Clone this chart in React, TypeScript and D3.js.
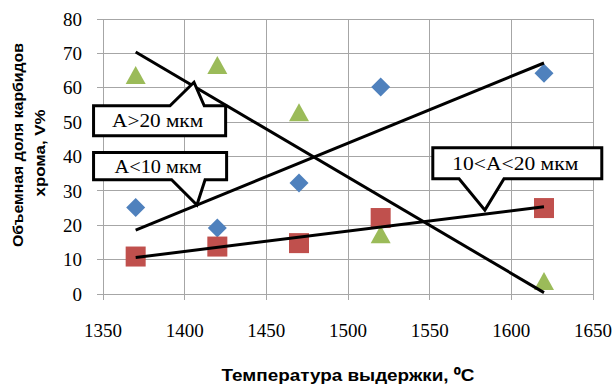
import * as d3 from "d3";

// температура выдержки, °C
const temps = [1370, 1420, 1470, 1520, 1620];
// объемная доля карбидов, V%
const fineShare = [25.2, 19.2, 32.3, 60.2, 64.2]; // A<10 мкм
const midShare = [10.9, 13.8, 14.8, 22.1, 25.0]; // 10<A<20 мкм
const coarseShare = [63.7, 66.6, 52.9, 17.4, 3.8]; // A>20 мкм

// линии тренда (концы, как на рисунке)
const trendTemps = [1370, 1620];
const fineTrend = [18.6, 67.2];
const midTrend = [10.6, 25.4];
const coarseTrend = [70.4, 0.4];

const xTicks = [1350, 1400, 1450, 1500, 1550, 1600, 1650];
const yTicks = [0, 10, 20, 30, 40, 50, 60, 70, 80];

// выноски: текст, острие (в данных), рамка (в данных), основание клина (по x), сторона
const callouts = [
  { text: "A>20 мкм", tip: [1405.7, 61.6], box: [1343.3, 1426, 55.2, 45.6], base: [1391, 1412], side: "top" },
  { text: "A<10 мкм", tip: [1407.5, 25.9], box: [1343.3, 1426.6, 41.6, 32.8], base: [1392, 1412.5], side: "bottom" },
  { text: "10<A<20 мкм", tip: [1583.8, 24.4], box: [1551, 1656.3, 43, 33.1], base: [1568, 1595.5], side: "bottom" },
];

const W = 615;
const H = 385;

const x = d3.scaleLinear().domain([1350, 1650]).range([103, 593]);
const y = d3.scaleLinear().domain([0, 80]).range([294, 19]);

const gridColor = "#a6a6a6";
const serif = "'Liberation Serif', 'Times New Roman', serif";
const sans = "'Liberation Sans', Arial, sans-serif";
// ширина надписей в выносках, px
const labelWidth: Record<string, number> = { "A>20 мкм": 91, "A<10 мкм": 87, "10<A<20 мкм": 126 };

function diamond(cx: number, cy: number, r: number) {
  return `M${cx},${cy - r}L${cx + r},${cy}L${cx},${cy + r}L${cx - r},${cy}Z`;
}
function triangle(cx: number, cy: number, w: number, h: number) {
  return `M${cx},${cy - h / 2}L${cx + w / 2},${cy + h / 2}L${cx - w / 2},${cy + h / 2}Z`;
}

function calloutPath(c: (typeof callouts)[number]) {
  const x0 = x(c.box[0]) + 1.5, x1 = x(c.box[1]) - 1.5;
  const y0 = y(c.box[2]) + 1.5, y1 = y(c.box[3]) - 1.5;
  const b0 = x(c.base[0]), b1 = x(c.base[1]);
  const tx = x(c.tip[0]), ty = y(c.tip[1]);
  if (c.side === "top") {
    return `M${x0},${y0}L${b0},${y0}L${tx},${ty}L${b1},${y0}L${x1},${y0}L${x1},${y1}L${x0},${y1}Z`;
  }
  return `M${x0},${y0}L${x1},${y0}L${x1},${y1}L${b1},${y1}L${tx},${ty}L${b0},${y1}L${x0},${y1}Z`;
}

const trendLine = d3
  .line<number>()
  .x((_, i) => x(trendTemps[i]))
  .y((d) => y(d));

export default function App() {
  const [xMin, xMax] = x.range();
  const [yBottom, yTop] = y.range();

  return (
    <svg
      width={W}
      height={H}
      style={{ position: "absolute", left: 0, top: 0, background: "#fff" }}
    >
      {/* сетка */}
      <g stroke={gridColor} strokeWidth={1} shapeRendering="crispEdges">
        {yTicks.map((t) => (
          <line key={"gy" + t} x1={xMin - 6} x2={xMax} y1={y(t)} y2={y(t)} />
        ))}
        {xTicks.map((t) => (
          <line key={"gx" + t} x1={x(t)} x2={x(t)} y1={yTop} y2={yBottom + 6} />
        ))}
      </g>

      {/* подписи осей */}
      <g fontFamily={serif} fontSize={19} fill="#000">
        {yTicks.map((t) => (
          <text key={"ly" + t} x={82} y={y(t)} dy="0.35em" textAnchor="end">
            {t}
          </text>
        ))}
        {xTicks.map((t) => (
          <text key={"lx" + t} x={x(t)} y={337} textAnchor="middle">
            {t}
          </text>
        ))}
      </g>

      {/* точки */}
      {temps.map((t, i) => (
        <path key={"b" + t} d={diamond(x(t), y(fineShare[i]), 9.5)} fill="#4f81bd" />
      ))}
      {temps.map((t, i) => (
        <rect
          key={"r" + t}
          x={x(t) - 10}
          y={y(midShare[i]) - 10}
          width={20}
          height={20}
          fill="#c0504d"
        />
      ))}
      {temps.map((t, i) => (
        <path key={"g" + t} d={triangle(x(t), y(coarseShare[i]), 20, 18)} fill="#9bbb59" />
      ))}

      {/* тренды */}
      <g fill="none" stroke="#000" strokeWidth={3}>
        <path d={trendLine(fineTrend) ?? ""} />
        <path d={trendLine(midTrend) ?? ""} />
        <path d={trendLine(coarseTrend) ?? ""} />
      </g>

      {/* выноски */}
      {callouts.map((c) => (
        <g key={c.text}>
          <path d={calloutPath(c)} fill="#fff" stroke="#000" strokeWidth={3} strokeLinejoin="miter" />
          <text
            x={(x(c.box[0]) + x(c.box[1])) / 2 - 2}
            y={(y(c.box[2]) + y(c.box[3])) / 2}
            dy="0.35em"
            textAnchor="middle"
            fontFamily={serif}
            fontSize={19}
            textLength={labelWidth[c.text]}
            lengthAdjust="spacingAndGlyphs"
          >
            {c.text}
          </text>
        </g>
      ))}

      {/* заголовки осей */}
      <text
        x={(xMin + xMax) / 2}
        y={381}
        textAnchor="middle"
        fontFamily={sans}
        fontWeight="bold"
        fontSize={16}
        textLength={253}
        lengthAdjust="spacingAndGlyphs"
      >
        Температура выдержки, ⁰С
      </text>
      <g fontFamily={sans} fontWeight="bold" fontSize={15}>
        <text transform="translate(23,145) rotate(-90)" textAnchor="middle" textLength={204} lengthAdjust="spacingAndGlyphs">
          Объемная доля карбидов
        </text>
        <text transform="translate(45,153) rotate(-90)" textAnchor="middle" textLength={87} lengthAdjust="spacingAndGlyphs">
          хрома, V%
        </text>
      </g>
    </svg>
  );
}
